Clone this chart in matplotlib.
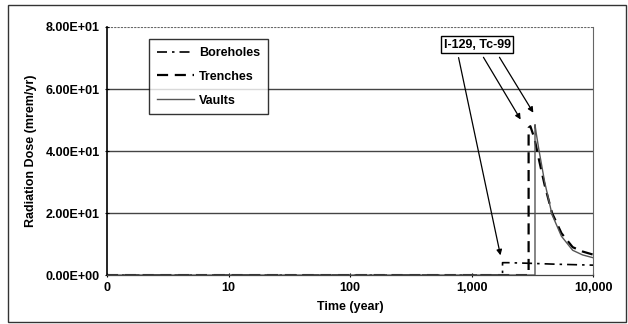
import matplotlib
matplotlib.use("Agg")
import matplotlib.pyplot as plt
from matplotlib.patches import Rectangle

plt.rcParams['font.family'] = ['Liberation Sans Narrow', 'Liberation Sans', 'DejaVu Sans']
plt.rcParams['font.weight'] = 'bold'

# Data
bore_t = [1, 1800, 1800, 2000, 3000, 5000, 10000]
bore_d = [0, 0, 4.0, 4.0, 3.8, 3.5, 3.2]
trench_t = [1, 2950, 2950, 3050, 3300, 3600, 4000, 4600, 5500, 6800, 8200, 10000]
trench_d = [0, 0, 47.5, 48.0, 44.0, 37.0, 29.0, 20.0, 13.5, 9.0, 7.6, 6.6]
vault_t = [1, 3330, 3330, 3400, 3600, 4000, 4600, 5500, 6800, 8200, 10000]
vault_d = [0, 0, 48.5, 46.0, 40.0, 30.0, 19.5, 12.5, 8.0, 6.5, 5.6]

yticks = [0, 20, 40, 60, 80]
ytick_labels = ["0.00E+00", "2.00E+01", "4.00E+01", "6.00E+01", "8.00E+01"]
xticks = [1, 10, 100, 1000, 10000]
xtick_labels = ["0", "10", "100", "1,000", "10,000"]

fig = plt.figure(figsize=(6.28, 3.24), dpi=100)
ax = fig.add_axes([0.1704, 0.151, 0.7739, 0.7657])

ax.plot(bore_t, bore_d, color='black', lw=1.2, linestyle=(0, (6, 3, 1.5, 3)), label='Boreholes')
ax.plot(trench_t, trench_d, color='black', lw=1.6, linestyle=(0, (5, 3)), label='Trenches')
ax.plot(vault_t, vault_d, color='#555555', lw=1.0, linestyle='-', label='Vaults')

ax.set_xscale('log')
ax.set_xlim(1, 10000)
ax.set_ylim(0, 80)
ax.set_xticks(xticks)
ax.set_xticklabels(xtick_labels, fontsize=9, fontweight='bold')
ax.minorticks_off()
ax.set_yticks(yticks)
ax.set_yticklabels(ytick_labels, fontsize=9, fontweight='bold')
ax.tick_params(axis='both', length=3, width=0.8, direction='inout')

for y in [20, 40, 60]:
    ax.axhline(y, color='#444444', lw=1.0, zorder=0)
ax.axhline(80, color='#666666', lw=0.8, linestyle=(0, (2, 1)), zorder=0)

ax.spines['top'].set_visible(False)
ax.spines['right'].set_color('#666666')
ax.spines['right'].set_linewidth(0.8)
ax.spines['left'].set_linewidth(1.2)
ax.spines['bottom'].set_color('#444444')
ax.spines['bottom'].set_linewidth(0.9)

ax.set_xlabel('Time (year)', fontsize=9, fontweight='bold', labelpad=5)
ax.set_ylabel('Radiation Dose (mrem/yr)', fontsize=9, fontweight='bold', labelpad=6)

leg = ax.legend(loc='upper left', bbox_to_anchor=(0.074, 0.975), prop={'size': 9, 'weight': 'bold'},
                frameon=True, fancybox=False, edgecolor='black', handlelength=3,
                borderpad=0.6, labelspacing=0.95, handletextpad=0.4)
leg.get_frame().set_linewidth(1.0)

# Annotation box with arrows
bbox = dict(boxstyle='square,pad=0.2', fc='white', ec='black', lw=1.0)
ax.text(1110, 74.2, 'I-129, Tc-99', fontsize=9, fontweight='bold', ha='center', va='center',
        bbox=bbox, zorder=5)
arrow = dict(arrowstyle='-|>', color='black', lw=0.9, mutation_scale=8)
ax.annotate('', xy=(1750, 5.5), xytext=(774, 71), arrowprops=arrow)
ax.annotate('', xy=(2605, 49.4), xytext=(1220, 71), arrowprops=arrow)
ax.annotate('', xy=(3316, 51.6), xytext=(1652, 71), arrowprops=arrow)

# outer frame
fig.patches.append(Rectangle((0.012, 0.005), 0.985, 0.98, transform=fig.transFigure,
                             fill=False, ec='#333333', lw=1.0))

fig.savefig('out.png', dpi=100)
